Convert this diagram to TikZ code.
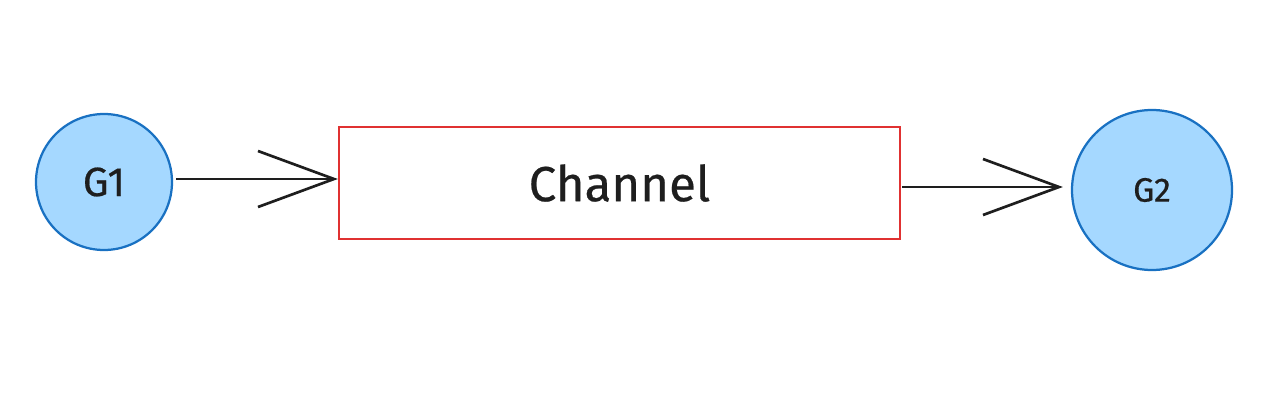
\documentclass[tikz,border=0pt]{standalone}
\usepackage{fontspec}
\setmainfont{Fira Sans}
\usetikzlibrary{arrows.meta}
\definecolor{nodefill}{HTML}{A5D8FF}
\definecolor{nodeline}{HTML}{1971C2}
\definecolor{boxline}{HTML}{E03131}
\definecolor{ink}{HTML}{1E1E1E}
\tikzset{
  gnode/.style={circle, draw=nodeline, fill=nodefill, line width=1.6pt, inner sep=0pt, text=ink},
  chbox/.style={rectangle, draw=boxline, fill=white, line width=1.6pt, inner sep=0pt, text=ink},
  link/.style={draw=ink, line width=1.9pt, -{Straight Barb[length=1.9cm, width=1.4cm, line width=1.9pt]}}
}
\begin{document}
\begin{tikzpicture}[x=0.025cm, y=-0.025cm]
\useasboundingbox[fill=white] (0,0) rectangle (1280,400);
\node[gnode, minimum size=136*0.025cm, font=\fontsize{29}{33}\selectfont\addfontfeatures{FakeBold=0.5}] (g1) at (104,182) {G1};
\node[gnode, minimum size=160*0.025cm, font=\fontsize{24}{28}\selectfont\addfontfeatures{FakeBold=0.5}] (g2) at (1152,190) {G2};
\node[chbox, minimum width=561*0.025cm, minimum height=112*0.025cm, font=\fontsize{35}{40}\selectfont\addfontfeatures{FakeBold=0.5}] (ch) at (619.5,183) {Channel};
\coordinate (a1s) at (176,179);
\coordinate (a2s) at (902,187);
\draw[link] (a1s) -- (ch.west |- a1s);
\draw[link, shorten >=8*0.025cm] (a2s) -- (g2.west |- a2s);
\end{tikzpicture}
\end{document}
